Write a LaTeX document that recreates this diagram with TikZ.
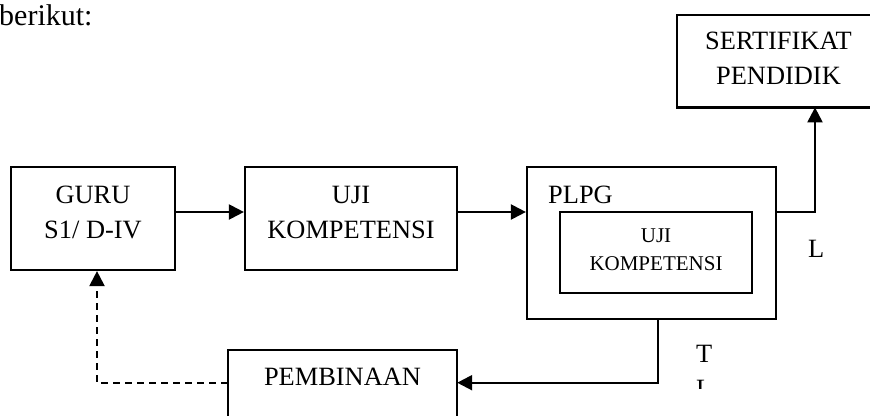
\documentclass[tikz,border=0pt]{standalone}
\usepackage{fontspec}
\setmainfont{Liberation Serif}
\usetikzlibrary{arrows.meta}
\tikzset{
  frame/.style={draw=black, line width=2.2pt, rectangle, inner sep=0pt},
  open/.style={rectangle, inner sep=0pt},
  lbl/.style={inner sep=0pt, align=center, font=\fontsize{26.4}{35}\selectfont},
  slbl/.style={inner sep=0pt, align=center, font=\fontsize{21}{28}\selectfont},
  edge/.style={line width=2.2pt},
  arr/.style={line width=2.2pt, -{Triangle[length=15pt,width=15pt]}},
  darr/.style={line width=2.2pt, dash pattern=on 7pt off 5pt, -{Triangle[length=15pt,width=15pt]}}
}
\begin{document}
\begin{tikzpicture}[x=1pt,y=-1pt]
\useasboundingbox (0,0) rectangle (870,415);
\node[lbl, anchor=base west, font=\fontsize{30}{35}\selectfont] (intro) at (-1,25) {berikut:};
\node[frame, minimum width=164pt, minimum height=103pt] (guru) at (93,218.5) {};
\node[lbl] (gurut) at (93,212.5) {GURU\\S1/ D-IV};
\node[frame, minimum width=212pt, minimum height=103pt] (uji) at (351,218.5) {};
\node[lbl] (ujit) at (351,212.5) {UJI\\KOMPETENSI};
\node[frame, minimum width=249pt, minimum height=152pt] (plpg) at (651.5,243) {};
\node[lbl, anchor=base west] (plpgt) at (548,203) {PLPG};
\node[frame, minimum width=192pt, minimum height=81pt] (uji2) at (656,252.5) {};
\node[slbl] (uji2t) at (656,249.5) {UJI\\KOMPETENSI};
\node[open, minimum width=260pt, minimum height=92pt, anchor=north west] (sert) at (677,15) {};
\draw[edge] (sert.north east) -- (sert.north west) -- (sert.south west) -- (sert.south east);
\node[lbl] (sertt) at (778.5,58) {SERTIFIKAT\\PENDIDIK};
\node[open, minimum width=229pt, minimum height=90pt, anchor=north] (pemb) at (342.5,350) {};
\draw[edge] (pemb.south west) -- (pemb.north west) -- (pemb.north east) -- (pemb.south east);
\node[lbl, anchor=base] (pembt) at (342.5,385) {PEMBINAAN};
\node[lbl, anchor=base west] (lul) at (808,257) {L};
\node[lbl, anchor=base west] (tl) at (696,362) {T};
\begin{scope}
\clip (600,300) rectangle (800,388);
\node[lbl, anchor=base west] (tl2) at (696,397) {L};
\end{scope}
\draw[arr] ([yshift=6.5pt]guru.east) -- ([yshift=6.5pt]uji.west);
\draw[arr] ([yshift=6.5pt]uji.east) -- ([yshift=6.5pt]uji.east -| plpg.west);
\draw[arr] ([yshift=6.5pt]uji.east -| plpg.east) -| ([xshift=138pt]sert.south west);
\draw[arr] ([xshift=6.5pt]plpg.south) |- (pemb.east |- pembt.mid);
\draw[darr] (pemb.west |- pembt.mid) -| ([xshift=4pt]guru.south);
\end{tikzpicture}
\end{document}
